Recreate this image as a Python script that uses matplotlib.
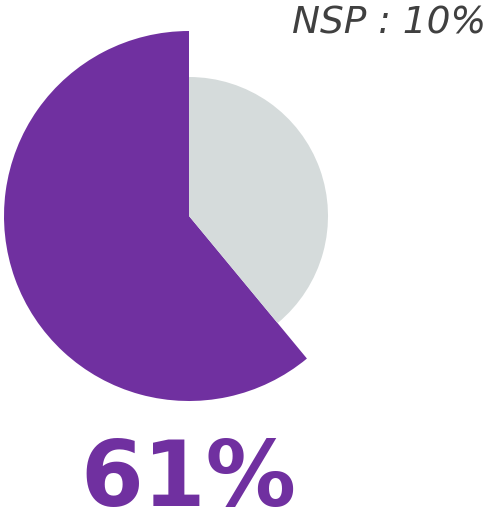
import matplotlib
matplotlib.use("Agg")
import matplotlib.pyplot as plt

# data
labels = ["Oui", "Non"]
values = [61, 39]
big_label = "61%"
nsp_label = "NSP : 10%"

purple = "#7030A0"
grey = "#D5DBDB"

fig = plt.figure(figsize=(4.92, 5.15), dpi=100)
ax = fig.add_axes([0, 0, 1, 1])

cx, cy = 189, 515 - 216
# purple wedge, bigger radius
ax.pie(values, colors=[purple, "none"], startangle=90, counterclock=True,
       radius=185, center=(cx, cy), wedgeprops=dict(linewidth=0))
# grey wedge, smaller radius
ax.pie(values, colors=["none", grey], startangle=90, counterclock=True,
       radius=139, center=(cx, cy), wedgeprops=dict(linewidth=0))

ax.set_xlim(0, 492)
ax.set_ylim(0, 515)
ax.set_aspect("equal")
ax.axis("off")

ax.text(188, 515 - 506, big_label, color=purple, fontsize=65, fontweight="bold",
        ha="center", va="baseline", family="DejaVu Sans")
ax.text(486, 515 - 34, nsp_label, color="#404040", fontsize=27, style="italic",
        ha="right", va="baseline", family="DejaVu Sans")

fig.savefig("out.png", dpi=100)
